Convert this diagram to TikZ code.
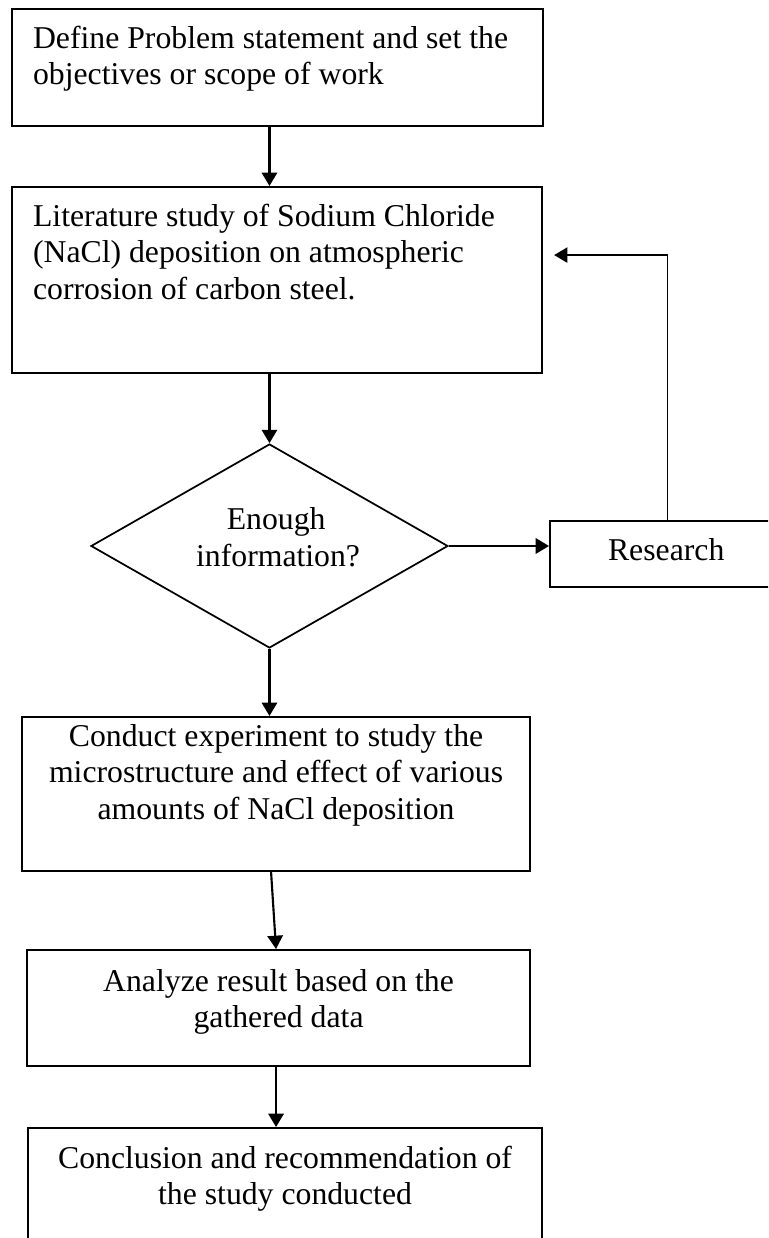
\documentclass[tikz,border=0pt]{standalone}
\usepackage{fontspec}
\setmainfont{Liberation Serif}
\usetikzlibrary{shapes.geometric,arrows.meta,calc,positioning}

% box body: width, height, first baseline, alignment, text
\newcommand{\topbox}[5]{\parbox[c][#2][t]{#1}{#4\rule{0pt}{#3}#5}}

\begin{document}
\begin{tikzpicture}[x=1pt,y=-1pt,line width=1.6pt,
	>={Triangle[length=10pt,width=11.5pt]},
	procbox/.style={draw,rectangle,inner sep=0pt,anchor=north west},
	decision/.style={draw,diamond,aspect=1.75,inner sep=0pt,line width=1.3pt},
	flow/.style={->},
	every node/.style={font=\fontsize{23.8}{27.4}\selectfont}]

\useasboundingbox (0,0) rectangle (576,928.5);
\clip (0,0) rectangle (576,928.5);

\node[procbox] (define) at (8.25,6) {\topbox{398.25pt}{87.75pt}{29.25pt}{\raggedright\leftskip=15.75pt}{Define Problem statement and set the\\objectives or scope of work}};
\node[procbox] (lit) at (8.25,139.5) {\topbox{397.5pt}{139.5pt}{29.25pt}{\raggedright\leftskip=15.75pt}{Literature study of Sodium Chloride\\(NaCl) deposition on atmospheric\\corrosion of carbon steel.}};
\node[decision,minimum width=267.75pt,minimum height=153pt] (dec) at (202.1,409.5) {\parbox{130pt}{\centering\leftskip=10pt plus 1fil Enough\\information?\par\vspace*{13.5pt}}};
\node[procbox] (res) at (411.75,390) {\topbox{176.25pt}{49.5pt}{29.25pt}{\raggedright\leftskip=43.5pt}{Research}};
\node[procbox] (exp) at (15.75,537) {\topbox{381pt}{115.5pt}{21.75pt}{\centering}{Conduct experiment to study the\\microstructure and effect of various\\amounts of NaCl deposition}};
\node[procbox] (ana) at (19.5,711.75) {\topbox{377.25pt}{87pt}{30.75pt}{\centering}{Analyze result based on the\\gathered data}};
\node[procbox] (conc) at (20.25,845.25) {\topbox{385.5pt}{99.75pt}{30pt}{\centering}{Conclusion and recommendation of\\the study conducted}};

% connectors
\draw[flow] (dec.north |- define.south) -- (dec.north |- lit.north);
\draw[flow] (dec.north |- lit.south) -- (dec.north);
\draw[flow] (dec.east) -- (dec.east -| res.west);
\draw[flow,line width=1.1pt] (res.north) |- ([shift={(8.25pt,18.75pt)}]lit.east);
\draw[flow] (dec.south) -- (dec.south |- exp.north);
\draw[flow] ([xshift=-3.75pt]exp.south) -- ([xshift=-1.9pt]ana.north);
\draw[flow] ([xshift=-1.9pt]ana.south) -- ([xshift=-1.9pt]ana.south |- conc.north);

\end{tikzpicture}
\end{document}
